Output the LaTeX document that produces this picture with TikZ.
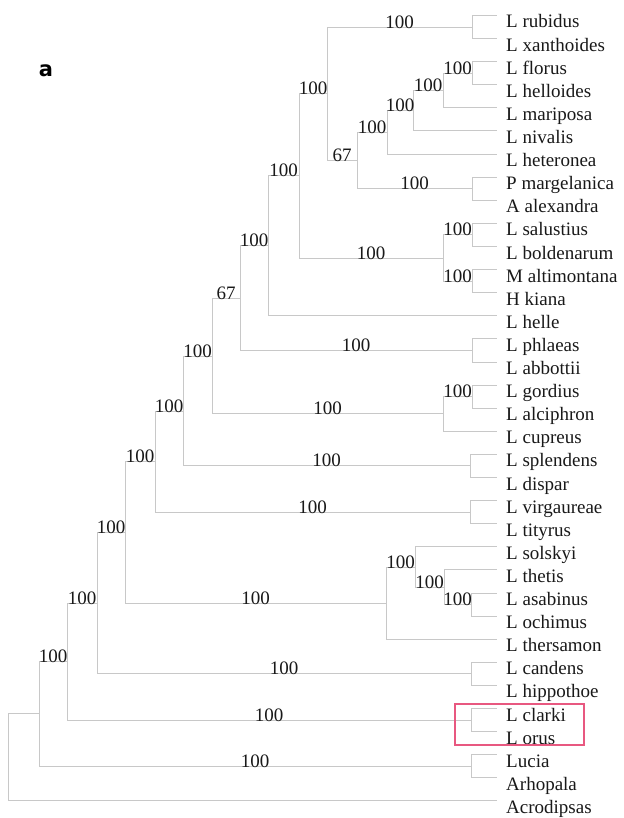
\documentclass[tikz,border=0pt]{standalone}
\usepackage{fontspec}
\setmainfont{Liberation Serif}
\newfontfamily\panelfont{DejaVu Sans}
\usetikzlibrary{calc}
\definecolor{boxred}{RGB}{232,88,128}
\definecolor{linegray}{RGB}{200,200,200}
\definecolor{txt}{RGB}{25,25,25}
\newcommand\tbranch[3]{\draw[br] (#1) |- (#2); \node[lbl] (lab#2) at ($(#1 |- #2)!0.5!(#2)$) {#3};}
\newcommand\tleaf[2]{\draw[br] (#1) |- (#2);}
\begin{document}
\begin{tikzpicture}[x=1pt,y=-1pt,
  br/.style={draw=linegray, line width=1pt},
  lbl/.style={font=\fontsize{19}{19}\selectfont, text=txt, anchor=base, inner sep=0pt, yshift=-1pt},
  leaf/.style={font=\fontsize{19}{19}\selectfont, text=txt, anchor=base west, inner sep=0pt}]
\useasboundingbox (0,0) rectangle (623,818);
\fill[white] (0,0) rectangle (623,818);

% leaves
\foreach \nm [count=\i from 0] in {L rubidus, L xanthoides, L florus, L helloides, L mariposa, L nivalis, L heteronea, P margelanica, A alexandra, L salustius, L boldenarum, M altimontana, H kiana, L helle, L phlaeas, L abbottii, L gordius, L alciphron, L cupreus, L splendens, L dispar, L virgaureae, L tityrus, L solskyi, L thetis, L asabinus, L ochimus, L thersamon, L candens, L hippothoe, L clarki, L orus, Lucia, Arhopala, Acrodipsas}{
  \coordinate (l\i) at (497,{15.5+23.1*\i});
  \node[leaf] (t\i) at (506,{28+23.1*\i}) {\nm};
}

% internal nodes
\coordinate (n01) at (472,27.05);
\coordinate (F) at (472,73.25);
\coordinate (E) at (443,90.58);
\coordinate (D) at (413,110.79);
\coordinate (C) at (387,132.44);
\coordinate (n78) at (472,188.75);
\coordinate (G) at (357,160.6);
\coordinate (A) at (327,93.8);
\coordinate (n910) at (472,234.95);
\coordinate (n1112) at (472,281.15);
\coordinate (H) at (443,258.05);
\coordinate (B) at (299,175.9);
\coordinate (I) at (268,245.85);
\coordinate (n1415) at (472,350.45);
\coordinate (J) at (240,298.15);
\coordinate (n1617) at (472,396.65);
\coordinate (M) at (443,413.98);
\coordinate (K) at (212,356.06);
\coordinate (n1920) at (470,465.95);
\coordinate (L) at (183,411.0);
\coordinate (n2122) at (470,512.15);
\coordinate (N) at (155,461.58);
\coordinate (R) at (471,604.55);
\coordinate (Qb) at (444,587.23);
\coordinate (Q) at (415,567.01);
\coordinate (P) at (386,603.1);
\coordinate (O) at (125,532.34);
\coordinate (n2829) at (471,673.85);
\coordinate (S) at (97,603.1);
\coordinate (n3031) at (471,720.05);
\coordinate (T) at (67,661.58);
\coordinate (n3233) at (471,766.25);
\coordinate (U) at (39,713.9);
\coordinate (root) at (8,757.4);

% branches
\tleaf{n01}{l0} \tleaf{n01}{l1}
\tleaf{F}{l2} \tleaf{F}{l3}
\tbranch{E}{F}{100} \tleaf{E}{l4}
\tbranch{D}{E}{100} \tleaf{D}{l5}
\tbranch{C}{D}{100} \tleaf{C}{l6}
\tleaf{n78}{l7} \tleaf{n78}{l8}
\tbranch{G}{C}{100} \tbranch{G}{n78}{100}
\tbranch{A}{n01}{100} \tbranch{A}{G}{67}
\tleaf{n910}{l9} \tleaf{n910}{l10}
\tleaf{n1112}{l11} \tleaf{n1112}{l12}
\tbranch{H}{n910}{100} \tbranch{H}{n1112}{100}
\tbranch{B}{A}{100} \tbranch{B}{H}{100}
\tbranch{I}{B}{100} \tleaf{I}{l13}
\tleaf{n1415}{l14} \tleaf{n1415}{l15}
\tbranch{J}{I}{100} \tbranch{J}{n1415}{100}
\tleaf{n1617}{l16} \tleaf{n1617}{l17}
\tbranch{M}{n1617}{100} \tleaf{M}{l18}
\tbranch{K}{J}{67} \tbranch{K}{M}{100}
\tleaf{n1920}{l19} \tleaf{n1920}{l20}
\tbranch{L}{K}{100} \tbranch{L}{n1920}{100}
\tleaf{n2122}{l21} \tleaf{n2122}{l22}
\tbranch{N}{L}{100} \tbranch{N}{n2122}{100}
\tleaf{R}{l25} \tleaf{R}{l26}
\tbranch{Qb}{R}{100} \tleaf{Qb}{l24}
\tbranch{Q}{Qb}{100} \tleaf{Q}{l23}
\tbranch{P}{Q}{100} \tleaf{P}{l27}
\tbranch{O}{N}{100} \tbranch{O}{P}{100}
\tleaf{n2829}{l28} \tleaf{n2829}{l29}
\tbranch{S}{O}{100} \tbranch{S}{n2829}{100}
\tleaf{n3031}{l30} \tleaf{n3031}{l31}
\tbranch{T}{S}{100} \tbranch{T}{n3031}{100}
\tleaf{n3233}{l32} \tleaf{n3233}{l33}
\tbranch{U}{T}{100} \tbranch{U}{n3233}{100}
\tleaf{root}{U} \tleaf{root}{l34}

% panel letter and highlight box
\node[font=\panelfont\bfseries\fontsize{21}{21}\selectfont, anchor=base, inner sep=0pt] (panel) at (46,77) {a};
\node[draw=boxred, line width=1.2pt, minimum width=129pt, minimum height=41pt, inner sep=0pt] (hl) at (519.5,724.5) {};
\end{tikzpicture}
\end{document}
